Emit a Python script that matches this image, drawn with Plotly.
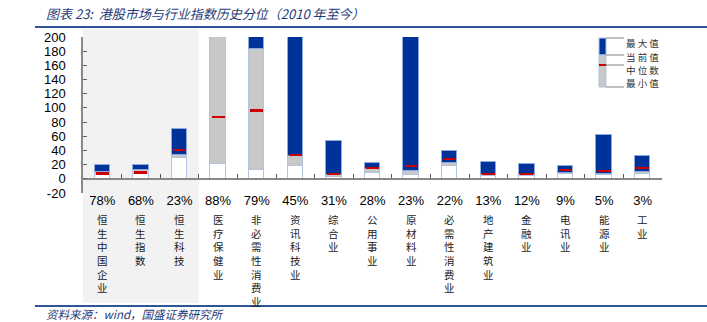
import plotly.graph_objects as go

# ---- data ----
categories = ["恒生中国企业", "恒生指数", "恒生科技", "医疗保健业", "非必需性消费业", "资讯科技业",
              "综合业", "公用事业", "原材料业", "必需性消费业", "地产建筑业", "金融业",
              "电讯业", "能源业", "工业"]
percentiles = ["78%", "68%", "23%", "88%", "79%", "45%", "31%", "28%", "23%", "22%", "13%", "12%",
               "9%", "5%", "3%"]
min_vals = [6, 7, 29.5, 21.6, 13, 17.8, 3, 8, 6, 17.8, 4, 4, 7, 5, 7.5]
cur_vals = [10, 12, 34, 230, 183, 32, 5.2, 13.5, 10.7, 22.5, 5.6, 5.6, 8.9, 7.5, 9.3]
med_vals = [7.5, 9, 40.8, 87, 96.2, 33.8, 7, 15.5, 17.8, 27.6, 7, 7, 12.7, 10.7, 15]
max_vals = [20.1, 19, 70.9, 260, 260, 260, 54, 22.5, 260, 39.8, 23.4, 21.5, 17.8, 62.4, 32.8]
y_ticks = list(range(-20, 201, 20))
y_ticktext = [str(v) for v in y_ticks]
legend_labels = ["最 大 值", "当 前 值", "中 位 数", "最 小 值"]

BLUE = "#003399"
GRAY = "#c8c8c8"
RED = "#cc0000"
EDGE = "#b4c3e0"
NAVY = "#1f3a7a"

W, H = 707, 322
L, R, T, B = 83, 45, 37, 129
pw, ph = W - L - R, H - T - B


def px(x):
    return (x - L) / pw


def py(y):
    return (H - B - y) / ph


fig = go.Figure()
fig.add_trace(go.Bar(x=categories, y=min_vals, base=[0] * len(min_vals), width=0.4,
                     marker=dict(color="white", line=dict(color=EDGE, width=1)), hoverinfo="skip"))
fig.add_trace(go.Bar(x=categories, y=[c - m for c, m in zip(cur_vals, min_vals)], base=min_vals,
                     width=0.4, marker=dict(color=GRAY, line=dict(color=EDGE, width=1)), hoverinfo="skip"))
fig.add_trace(go.Bar(x=categories, y=[mx - c for mx, c in zip(max_vals, cur_vals)], base=cur_vals,
                     width=0.4, marker=dict(color=BLUE, line=dict(color="#8ea9db", width=1)), hoverinfo="skip"))
fig.add_trace(go.Bar(x=categories, y=[3.4] * len(med_vals), base=[m - 1.7 for m in med_vals],
                     width=0.34, marker=dict(color=RED, line=dict(width=0)), hoverinfo="skip"))

shapes = [
    # shaded background for the three indices
    dict(type="rect", xref="x", yref="paper", x0=-0.5, x1=2.5, y0=py(303), y1=py(29.5),
         fillcolor="#f2f2f2", line=dict(width=0), layer="below"),
    # title and footer rules
    dict(type="line", xref="paper", yref="paper", x0=px(35), x1=px(707), y0=py(27), y1=py(27),
         line=dict(color="#2e5597", width=2)),
    dict(type="line", xref="paper", yref="paper", x0=px(35), x1=px(707), y0=py(306), y1=py(306),
         line=dict(color="#2e5597", width=2)),
    # legend glyph
    dict(type="rect", xref="paper", yref="paper", x0=px(599), x1=px(606), y0=py(55), y1=py(38),
         fillcolor=BLUE, line=dict(color=EDGE, width=1)),
    dict(type="rect", xref="paper", yref="paper", x0=px(599), x1=px(606), y0=py(87), y1=py(55),
         fillcolor=GRAY, line=dict(color=EDGE, width=1)),
    dict(type="line", xref="paper", yref="paper", x0=px(599), x1=px(606), y0=py(65), y1=py(65),
         line=dict(color=RED, width=2)),
]
for yy in [38, 55, 65, 87]:
    shapes.append(dict(type="line", xref="paper", yref="paper", x0=px(606), x1=px(624),
                       y0=py(yy), y1=py(yy), line=dict(color="#808080", width=1)))

annotations = [
    dict(text="<i>图表 23:  港股市场与行业指数历史分位（2010 年至今）</i>", xref="paper", yref="paper",
         x=px(44), y=py(13), xanchor="left", yanchor="middle", showarrow=False,
         font=dict(family="Noto Sans CJK SC", size=13, color=NAVY)),
    dict(text="<i>资料来源：wind，国盛证券研究所</i>", xref="paper", yref="paper",
         x=px(44), y=py(313.5), xanchor="left", yanchor="middle", showarrow=False,
         font=dict(family="Noto Sans CJK SC", size=11.5, color=NAVY)),
]
for lab, yy in zip(legend_labels, [43.5, 56.5, 69.5, 82.5]):
    annotations.append(dict(text=lab, xref="paper", yref="paper", x=px(625), y=py(yy),
                            xanchor="left", yanchor="middle", showarrow=False, borderpad=0,
                            font=dict(family="Noto Sans CJK SC", size=9.5, color="#333333")))
for cat in categories:
    annotations.append(dict(text="<br>".join(list(cat)), xref="x", yref="paper", x=cat, y=py(210),
                            xanchor="center", yanchor="top", showarrow=False,
                            font=dict(family="Noto Sans CJK SC", size=10.5, color="#222222")))

fig.update_layout(
    width=W, height=H, margin=dict(l=L, r=R, t=T, b=B, pad=0),
    barmode="overlay", showlegend=False, bargap=0,
    plot_bgcolor="rgba(0,0,0,0)", paper_bgcolor="white",
    shapes=shapes, annotations=annotations,
    font=dict(family="Liberation Sans, Arial", size=13, color="black"),
    xaxis=dict(type="category", categoryorder="array", categoryarray=categories,
               tickvals=categories, ticktext=percentiles, range=[-0.5, len(categories) - 0.5],
               anchor="free", position=20 / 220, showline=True, linecolor="#888888", linewidth=2,
               ticks="inside", tickson="boundaries", ticklen=4, tickcolor="#555555",
               showgrid=False, zeroline=False, ticklabelstandoff=10,
               tickfont=dict(family="Liberation Sans, Arial", size=13, color="black")),
    yaxis=dict(range=[-20, 200], tickvals=y_ticks, ticktext=y_ticktext, showline=True,
               linecolor="#888888", linewidth=1.5,
               ticks="inside", ticklen=4, tickcolor="#666666", showgrid=False, zeroline=False,
               ticklabelstandoff=13,
               tickfont=dict(family="Liberation Sans, Arial", size=13, color="black")),
)

fig.write_html("out.html")
